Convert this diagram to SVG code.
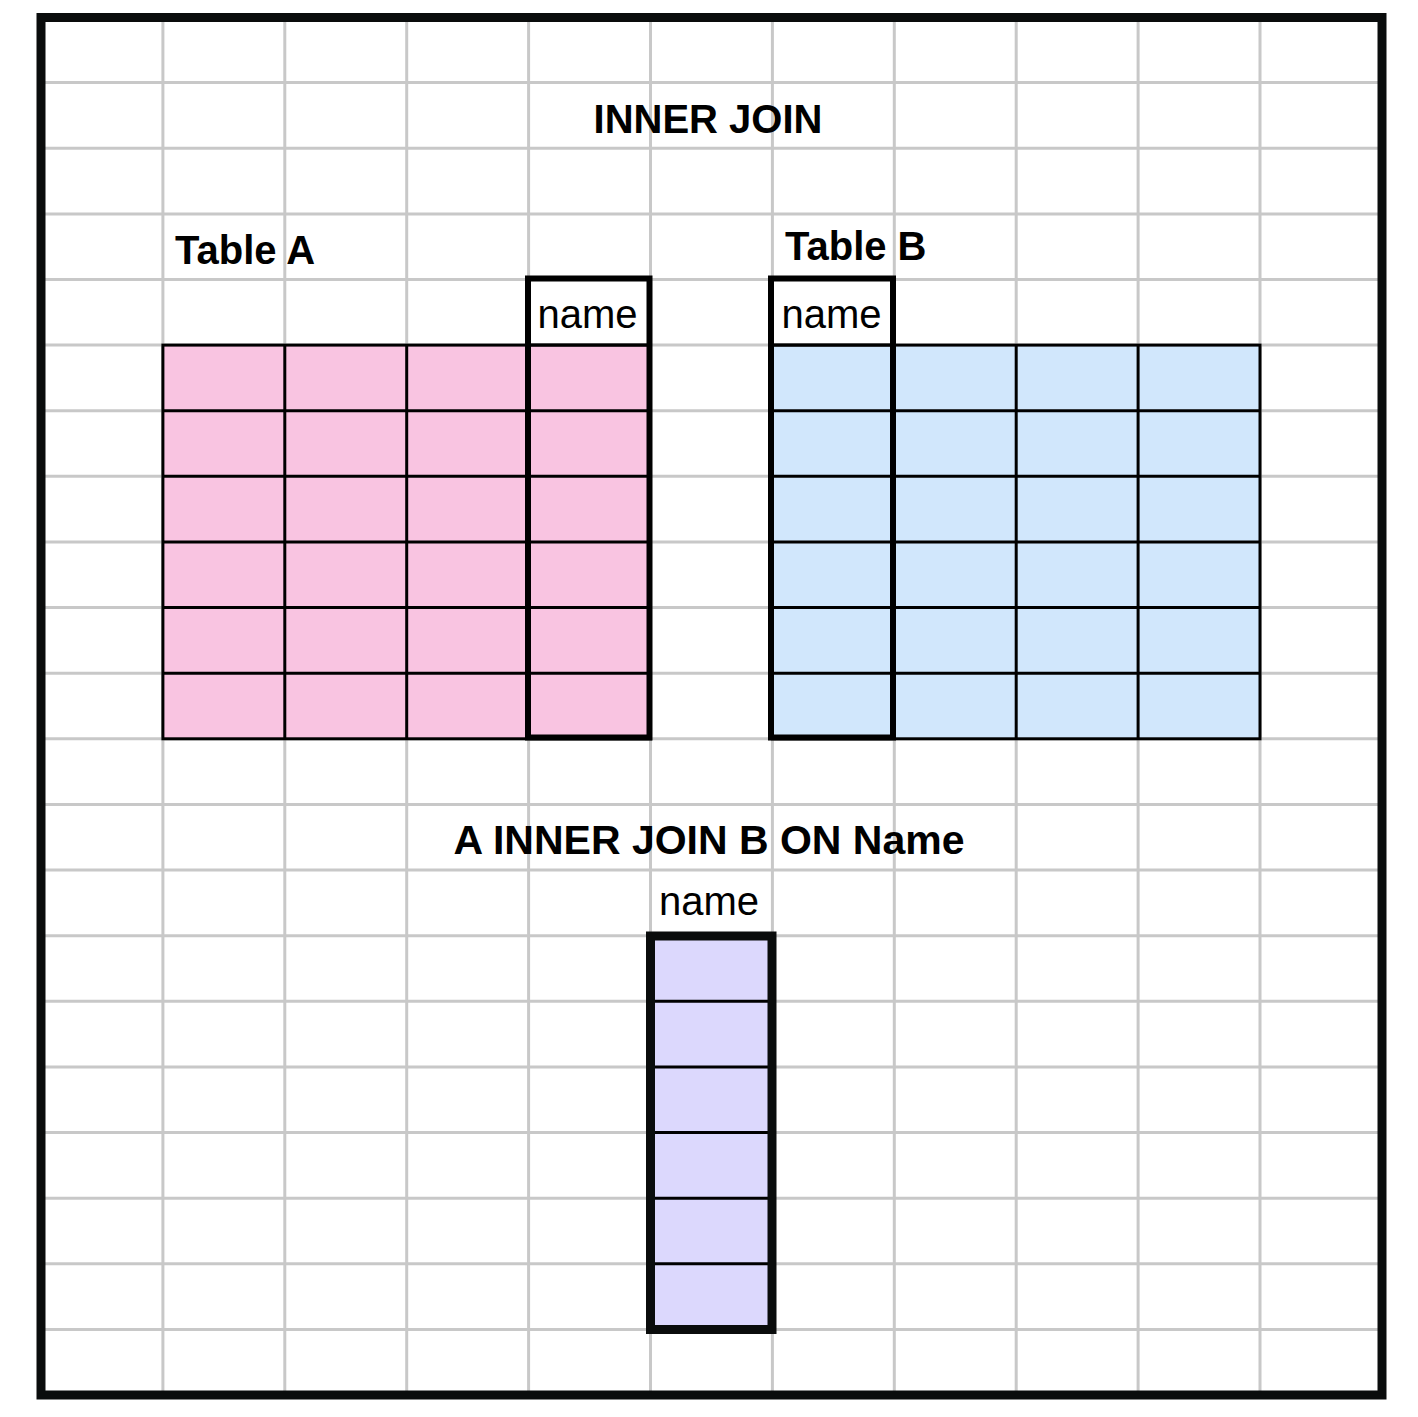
<svg xmlns="http://www.w3.org/2000/svg" width="1418" height="1417" viewBox="0 0 1418 1417">
<style>
.grid line{stroke:#c8c8c8;stroke-width:3}
.cell{stroke:#000;stroke-width:3}
.thick{fill:none;stroke:#000;stroke-width:6}
.bold{font-family:"Liberation Sans",Arial,sans-serif;font-weight:bold;font-size:40px;fill:#000}
.reg{font-family:"Liberation Sans",Arial,sans-serif;font-size:40px;fill:#000}
</style>
<rect x="0" y="0" width="1418" height="1417" fill="#fff"/>
<g id="grid" class="grid">
<line x1="162.9" y1="17" x2="162.9" y2="1395"/>
<line x1="284.8" y1="17" x2="284.8" y2="1395"/>
<line x1="406.7" y1="17" x2="406.7" y2="1395"/>
<line x1="528.6" y1="17" x2="528.6" y2="1395"/>
<line x1="650.5" y1="17" x2="650.5" y2="1395"/>
<line x1="772.4" y1="17" x2="772.4" y2="1395"/>
<line x1="894.3" y1="17" x2="894.3" y2="1395"/>
<line x1="1016.2" y1="17" x2="1016.2" y2="1395"/>
<line x1="1138.1" y1="17" x2="1138.1" y2="1395"/>
<line x1="1260" y1="17" x2="1260" y2="1395"/>
<line x1="41" y1="82.6" x2="1382" y2="82.6"/>
<line x1="41" y1="148.2" x2="1382" y2="148.2"/>
<line x1="41" y1="213.9" x2="1382" y2="213.9"/>
<line x1="41" y1="279.5" x2="1382" y2="279.5"/>
<line x1="41" y1="345.1" x2="1382" y2="345.1"/>
<line x1="41" y1="410.7" x2="1382" y2="410.7"/>
<line x1="41" y1="476.3" x2="1382" y2="476.3"/>
<line x1="41" y1="542" x2="1382" y2="542"/>
<line x1="41" y1="607.6" x2="1382" y2="607.6"/>
<line x1="41" y1="673.2" x2="1382" y2="673.2"/>
<line x1="41" y1="738.8" x2="1382" y2="738.8"/>
<line x1="41" y1="804.4" x2="1382" y2="804.4"/>
<line x1="41" y1="870.1" x2="1382" y2="870.1"/>
<line x1="41" y1="935.7" x2="1382" y2="935.7"/>
<line x1="41" y1="1001.3" x2="1382" y2="1001.3"/>
<line x1="41" y1="1066.9" x2="1382" y2="1066.9"/>
<line x1="41" y1="1132.5" x2="1382" y2="1132.5"/>
<line x1="41" y1="1198.2" x2="1382" y2="1198.2"/>
<line x1="41" y1="1263.8" x2="1382" y2="1263.8"/>
<line x1="41" y1="1329.4" x2="1382" y2="1329.4"/>
</g>
<rect id="border" x="41" y="17.5" width="1341" height="1377.5" fill="none" stroke="#0a0c0c" stroke-width="9"/>
<g id="title"><text class="bold" x="708" y="132.5" text-anchor="middle">INNER JOIN</text></g>
<g id="tableA">
<text class="bold" x="175" y="264">Table A</text>
<rect x="528.6" y="279.5" width="121.9" height="65.6" fill="#fff"/>
<rect x="162.9" y="345.1" width="487.6" height="393.7" fill="#f9c4e1" class="cell"/>
<line class="cell" x1="284.8" y1="345.1" x2="284.8" y2="738.8"/>
<line class="cell" x1="406.7" y1="345.1" x2="406.7" y2="738.8"/>
<line class="cell" x1="162.9" y1="410.7" x2="650.5" y2="410.7"/>
<line class="cell" x1="162.9" y1="476.3" x2="650.5" y2="476.3"/>
<line class="cell" x1="162.9" y1="542" x2="650.5" y2="542"/>
<line class="cell" x1="162.9" y1="607.6" x2="650.5" y2="607.6"/>
<line class="cell" x1="162.9" y1="673.2" x2="650.5" y2="673.2"/>
<line class="cell" x1="528.6" y1="345.1" x2="650.5" y2="345.1"/>
<rect class="thick" x="528" y="278.5" width="121.5" height="459"/>
<text class="reg" x="587.5" y="328" text-anchor="middle">name</text>
</g>
<g id="tableB">
<text class="bold" x="785" y="259.5">Table B</text>
<rect x="771" y="279.5" width="122" height="65.6" fill="#fff"/>
<rect x="772.4" y="345.1" width="487.6" height="393.7" fill="#d1e7fc" class="cell"/>
<line class="cell" x1="1016.2" y1="345.1" x2="1016.2" y2="738.8"/>
<line class="cell" x1="1138.1" y1="345.1" x2="1138.1" y2="738.8"/>
<line class="cell" x1="772.4" y1="410.7" x2="1260" y2="410.7"/>
<line class="cell" x1="772.4" y1="476.3" x2="1260" y2="476.3"/>
<line class="cell" x1="772.4" y1="542" x2="1260" y2="542"/>
<line class="cell" x1="772.4" y1="607.6" x2="1260" y2="607.6"/>
<line class="cell" x1="772.4" y1="673.2" x2="1260" y2="673.2"/>
<line class="cell" x1="772.4" y1="345.1" x2="894.3" y2="345.1"/>
<rect class="thick" x="771" y="278.5" width="122" height="459"/>
<text class="reg" x="831.5" y="328" text-anchor="middle">name</text>
</g>
<g id="result">
<text class="bold" x="709" y="853.5" text-anchor="middle" style="font-size:41px">A INNER JOIN B ON Name</text>
<text class="reg" x="709" y="915" text-anchor="middle">name</text>
<rect x="650.5" y="936" width="121.5" height="393.5" fill="#dcd8fd"/>
<line class="cell" x1="650.5" y1="1001.3" x2="772" y2="1001.3"/>
<line class="cell" x1="650.5" y1="1066.9" x2="772" y2="1066.9"/>
<line class="cell" x1="650.5" y1="1132.5" x2="772" y2="1132.5"/>
<line class="cell" x1="650.5" y1="1198.2" x2="772" y2="1198.2"/>
<line class="cell" x1="650.5" y1="1263.8" x2="772" y2="1263.8"/>
<rect x="650.5" y="936" width="121.5" height="393.5" fill="none" stroke="#0a0c0c" stroke-width="9"/>
</g>
<g id="connectors"/>
</svg>
